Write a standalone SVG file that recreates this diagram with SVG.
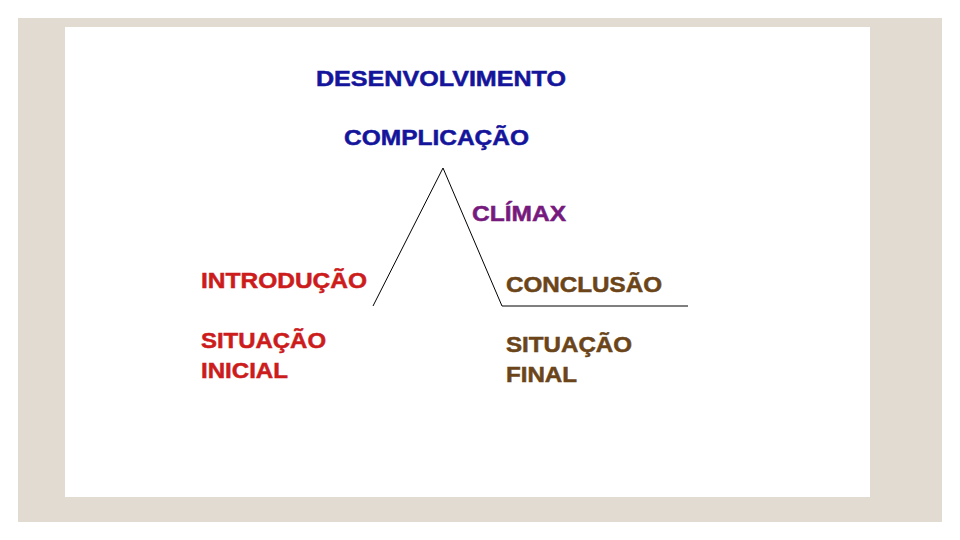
<svg xmlns="http://www.w3.org/2000/svg" width="960" height="540" viewBox="0 0 960 540">
<style>
  text { font-family: "Liberation Sans", Arial, sans-serif; font-weight: bold; font-size: 22px; stroke-width: 0.5px; }
  .blue { fill: #15159c; stroke: #15159c; }
  .red { fill: #cc1c1c; stroke: #cc1c1c; }
  .purple { fill: #771a7e; stroke: #771a7e; }
  .brown { fill: #6b4519; stroke: #6b4519; }
  .line { fill: none; stroke: #000; stroke-width: 1; }
</style>
<rect x="0" y="0" width="960" height="540" fill="#ffffff"/>
<rect x="18" y="18" width="924" height="504" fill="#e1dbd1"/>
<rect x="65" y="27" width="805" height="470" fill="#ffffff"/>
<g id="connectors">
  <polyline class="line" points="373,306 443,168 502,306 688,306"/>
</g>
<g id="desenvolvimento">
  <text class="blue" x="316" y="86" textLength="250" lengthAdjust="spacingAndGlyphs">DESENVOLVIMENTO</text>
</g>
<g id="complicacao">
  <text class="blue" x="344" y="145" textLength="185" lengthAdjust="spacingAndGlyphs">COMPLICAÇÃO</text>
</g>
<g id="climax">
  <text class="purple" x="472" y="221" textLength="94" lengthAdjust="spacingAndGlyphs">CLÍMAX</text>
</g>
<g id="introducao">
  <text class="red" x="201" y="288" textLength="166" lengthAdjust="spacingAndGlyphs">INTRODUÇÃO</text>
</g>
<g id="conclusao">
  <text class="brown" x="506" y="292" textLength="156" lengthAdjust="spacingAndGlyphs">CONCLUSÃO</text>
</g>
<g id="situacao-inicial">
  <text class="red" x="201" y="348" textLength="125" lengthAdjust="spacingAndGlyphs">SITUAÇÃO</text>
  <text class="red" x="201" y="378" textLength="87" lengthAdjust="spacingAndGlyphs">INICIAL</text>
</g>
<g id="situacao-final">
  <text class="brown" x="506" y="352" textLength="126" lengthAdjust="spacingAndGlyphs">SITUAÇÃO</text>
  <text class="brown" x="506" y="382" textLength="71" lengthAdjust="spacingAndGlyphs">FINAL</text>
</g>
</svg>
